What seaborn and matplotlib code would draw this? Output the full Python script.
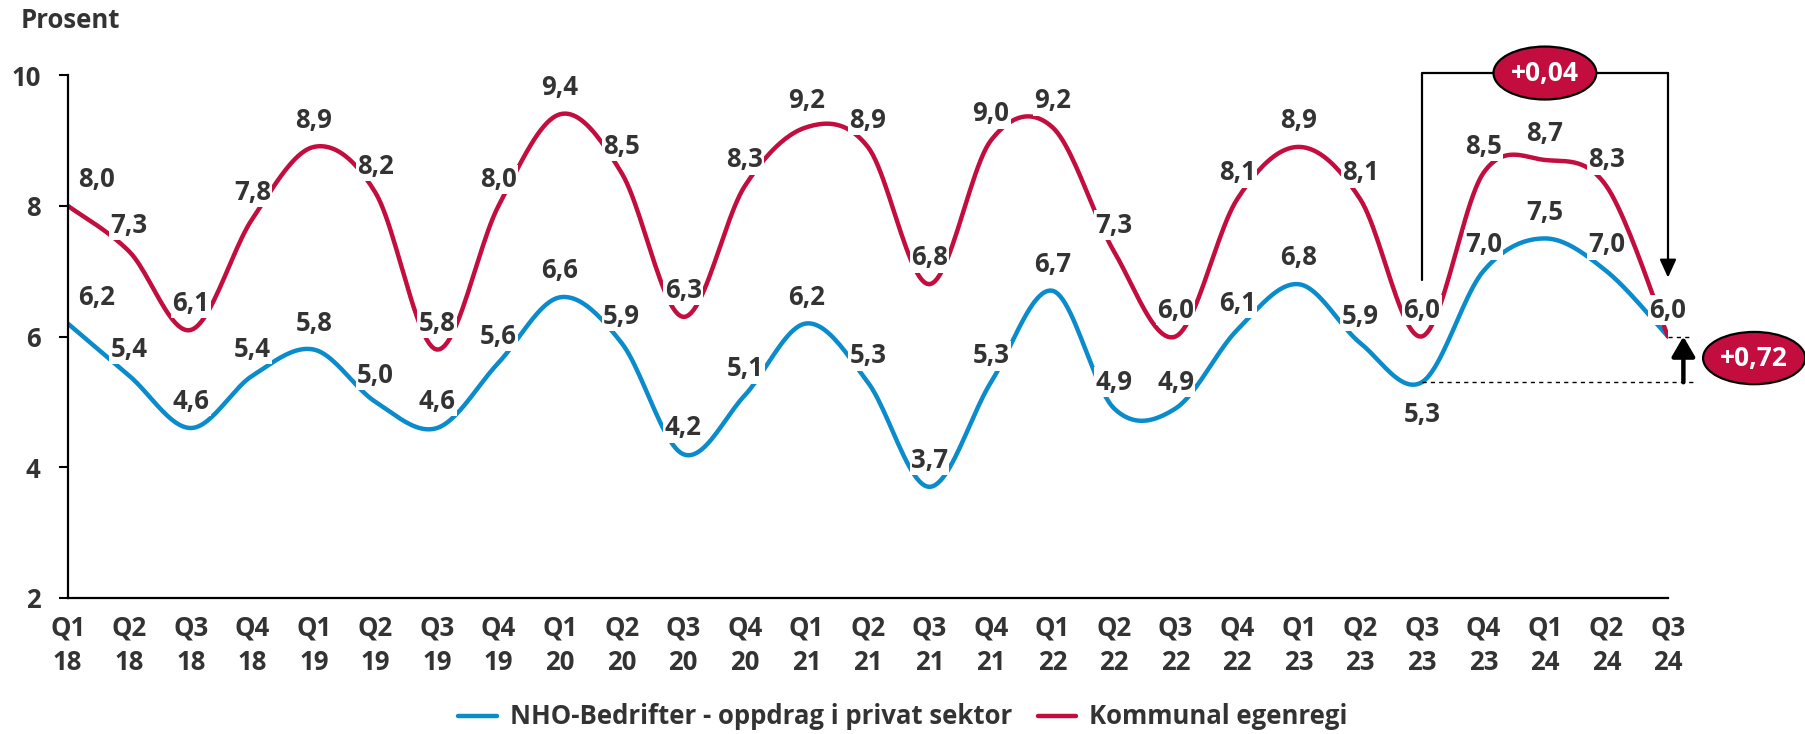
import numpy as np
import pandas as pd
import matplotlib
matplotlib.use("Agg")
import matplotlib.pyplot as plt
from matplotlib.patches import Ellipse
import seaborn as sns

# Data
quarters = ["Q1", "Q2", "Q3", "Q4"] * 6 + ["Q1", "Q2", "Q3"]
years = [y for y in ["18", "19", "20", "21", "22", "23"] for _ in range(4)] + ["24"] * 3
nho = [6.2, 5.4, 4.6, 5.4, 5.8, 5.0, 4.6, 5.6, 6.6, 5.9, 4.2, 5.1, 6.2, 5.3,
       3.7, 5.3, 6.7, 4.9, 4.9, 6.1, 6.8, 5.9, 5.3, 7.0, 7.5, 7.0, 6.0]
kommunal = [8.0, 7.3, 6.1, 7.8, 8.9, 8.2, 5.8, 8.0, 9.4, 8.5, 6.3, 8.3, 9.2, 8.9,
            6.8, 9.0, 9.2, 7.3, 6.0, 8.1, 8.9, 8.1, 6.0, 8.5, 8.7, 8.3, 6.0]
series_names = ["NHO-Bedrifter - oppdrag i privat sektor", "Kommunal egenregi"]
diff_top = "+0,04"
diff_right = "+0,72"

BLUE = "#0a8bcb"
RED = "#c20d3e"
TXT = "#333333"
FS = 18.5


def smooth(values, steps=24):
    # Excel-style smoothed line: cubic Bezier through each point
    p = np.asarray(values, dtype=float)
    x = np.arange(len(p), dtype=float)
    xs, ys = [], []
    for i in range(len(p) - 1):
        i0, i3 = max(i - 1, 0), min(i + 2, len(p) - 1)
        c1x, c1y = x[i] + (x[i + 1] - x[i0]) / 6, p[i] + (p[i + 1] - p[i0]) / 6
        c2x, c2y = x[i + 1] - (x[i3] - x[i]) / 6, p[i + 1] - (p[i3] - p[i]) / 6
        t = np.linspace(0, 1, steps, endpoint=(i == len(p) - 2))
        b = [(1 - t) ** 3, 3 * (1 - t) ** 2 * t, 3 * (1 - t) * t ** 2, t ** 3]
        xs.append(b[0] * x[i] + b[1] * c1x + b[2] * c2x + b[3] * x[i + 1])
        ys.append(b[0] * p[i] + b[1] * c1y + b[2] * c2y + b[3] * p[i + 1])
    return np.concatenate(xs), np.concatenate(ys)


def fmt(v):
    return f"{v:.1f}".replace(".", ",")


sns.set_theme(style="white")
plt.rcParams["font.family"] = ["Open Sans", "DejaVu Sans"]
plt.rcParams["font.weight"] = "bold"

frames = []
for name, vals in zip(series_names, [nho, kommunal]):
    sx, sy = smooth(vals)
    frames.append(pd.DataFrame({"x": sx, "y": sy, "serie": name}))
df = pd.concat(frames, ignore_index=True)

fig = plt.figure(figsize=(18.06, 7.34), dpi=100)
ax = fig.add_axes([67.7 / 1806, 1 - 598 / 734, (1668 - 67.7) / 1806, (598 - 75) / 734])

sns.lineplot(data=df, x="x", y="y", hue="serie", palette=[BLUE, RED],
             sort=False, estimator=None, linewidth=3.2, ax=ax)

ax.set_xlim(0, len(nho) - 1)
ax.set_ylim(2, 10)
ax.set_yticks([2, 4, 6, 8, 10])
ax.set_xticks(range(len(nho)))
ax.set_xticklabels([f"{q}\n{y}" for q, y in zip(quarters, years)], linespacing=1.35)
ax.tick_params(axis="x", length=0, pad=12, labelsize=FS, labelcolor=TXT)
ax.tick_params(axis="y", length=6.5, width=1.5, color="black", direction="out",
               pad=13, labelsize=FS, labelcolor=TXT, left=True)
ax.set_xlabel("")
ax.set_ylabel("")
for s in ["top", "right"]:
    ax.spines[s].set_visible(False)
for s in ["left", "bottom"]:
    ax.spines[s].set_color("black")
    ax.spines[s].set_linewidth(1.6)

# value labels
for vals, name in zip([nho, kommunal], series_names):
    for i, v in enumerate(vals):
        dy = 19
        if name == series_names[0] and i == 22:
            dy = -23
        dx = 21 if i == 0 else 0
        ax.annotate(fmt(v), (i, v), xytext=(dx, dy), textcoords="offset points",
                    ha="center", va="center", fontsize=FS, color=TXT,
                    fontweight="bold", zorder=6, annotation_clip=False,
                    bbox=dict(boxstyle="square,pad=0.05", fc="white", ec="none"))

# bracket comparing Q3 23 and Q3 24 (kommunal)
ax.plot([22, 22, 26], [6.86, 10.03, 10.03], color="black", lw=1.6, clip_on=False, zorder=4)
ax.annotate("", xy=(26, 6.9), xytext=(26, 10.03),
            arrowprops=dict(arrowstyle="-|>,head_length=0.55,head_width=0.25",
                            mutation_scale=20, color="black", lw=1.6,
                            shrinkA=0, shrinkB=0), zorder=4)
ax.add_patch(Ellipse((24, 10.03), 1.67, 0.81, fc=RED, ec="black", lw=1.6,
                     clip_on=False, zorder=7))
ax.text(24, 10.03, diff_top, ha="center", va="center", color="white",
        fontsize=FS + 0.5, fontweight="bold", zorder=8)

# gap change between Q3 23 and Q3 24 (NHO)
ax.plot([22, 26.4], [nho[22], nho[22]], color="black", lw=1, ls=(0, (3, 3)),
        clip_on=False, zorder=4)
ax.plot([26, 26.4], [nho[-1], nho[-1]], color="black", lw=1, ls=(0, (3, 3)),
        clip_on=False, zorder=4)
ax.annotate("", xy=(26.25, nho[-1]), xytext=(26.25, nho[22]),
            arrowprops=dict(arrowstyle="-|>,head_length=0.6,head_width=0.35",
                            mutation_scale=20, color="black", lw=3.2,
                            shrinkA=0, shrinkB=0), zorder=4, annotation_clip=False)
ax.add_patch(Ellipse((27.4, 5.67), 1.66, 0.80, fc=RED, ec="black", lw=1.6,
                     clip_on=False, zorder=7))
ax.text(27.4, 5.67, diff_right, ha="center", va="center", color="white",
        fontsize=FS + 0.5, fontweight="bold", zorder=8, clip_on=False)

fig.text(21 / 1806, 1 - 20 / 734, "Prosent", ha="left", va="center",
         fontsize=FS, fontweight="bold", color=TXT)

handles, labels = ax.get_legend_handles_labels()
ax.get_legend().remove()
fig.legend(handles, labels, loc="center", bbox_to_anchor=(0.5, 1 - 717 / 734),
           ncol=2, frameon=False, fontsize=FS, handlelength=1.5,
           columnspacing=1.0, handletextpad=0.5, labelcolor=TXT)

fig.savefig("out.png", dpi=100)
